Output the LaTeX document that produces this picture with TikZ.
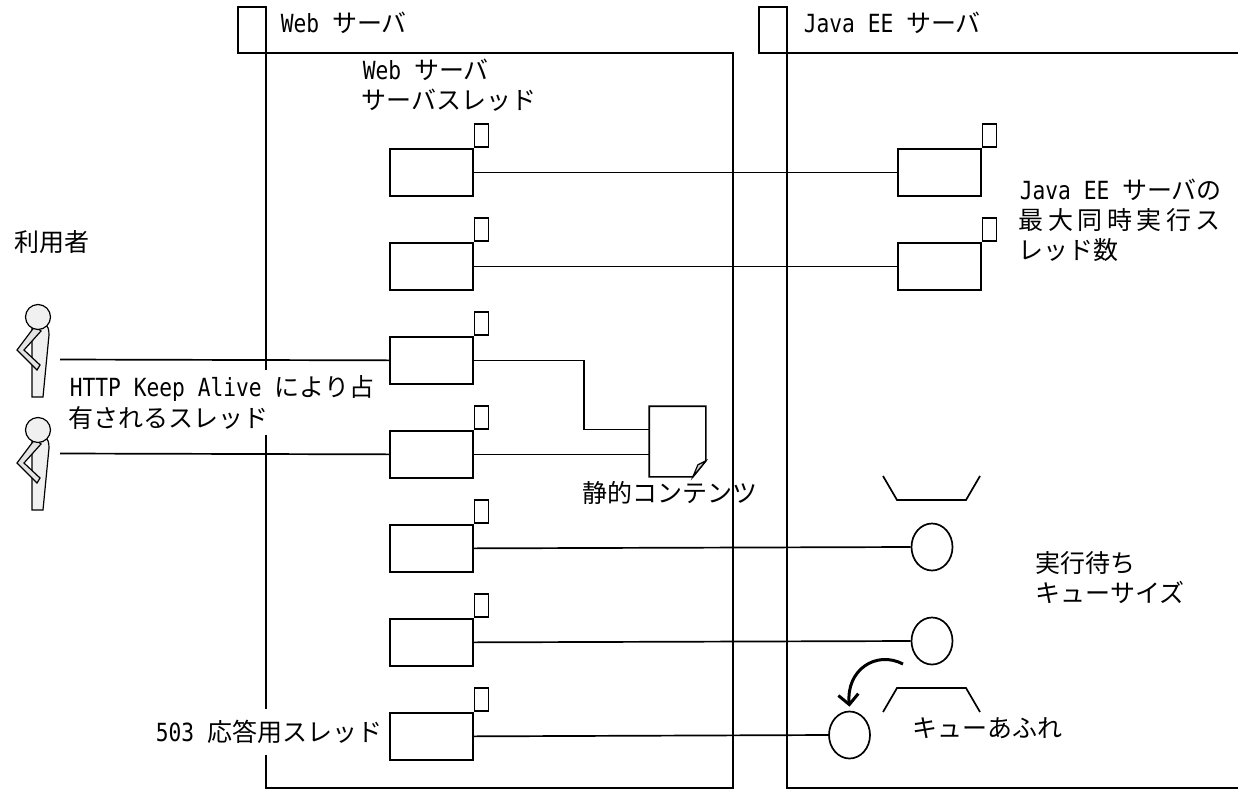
\documentclass[tikz,border=0pt]{standalone}
\usepackage{fontspec}
\setmainfont[FakeStretch=0.85]{DejaVu Sans Mono}
\newfontfamily\jp{Noto Sans CJK JP}
\newfontfamily\jpw[LetterSpace=18]{Noto Sans CJK JP}
\usetikzlibrary{shapes.geometric,arrows.meta}
\tikzset{
  tbox/.style={draw, rectangle, minimum width=83pt, minimum height=47pt, inner sep=0pt, anchor=north west},
  ttab/.style={draw, rectangle, minimum width=14pt, minimum height=23pt, inner sep=0pt, anchor=south west},
  lbl/.style={anchor=base west, inner sep=0pt},
  mask/.style={fill=white, inner xsep=2pt, inner ysep=6pt},
  qcirc/.style={draw, ellipse, minimum width=41pt, minimum height=47pt, inner sep=0pt},
  docbox/.style={rectangle, minimum width=55pt, minimum height=69pt, inner sep=0pt},
  person/.pic={
    \draw[fill=gray!12, line width=1.2pt] (-6,8) -- (6,8) .. controls (10,8) and (11,12) .. (11,18) -- (5,80) -- (-6,80) -- (-6,40) -- cycle;
    \draw[fill=gray!22, line width=1.2pt] (-3,9) -- (-21,33) -- (-1,53) -- (2,48) -- (-14,33) -- (3,14) -- cycle;
    \draw[fill=gray!12, line width=1.2pt] (0,0) circle (12.5pt);
  }
}
\begin{document}
\begin{tikzpicture}[x=1pt,y=-1pt,line width=1.7pt,every node/.style={font=\fontsize{25}{30}\selectfont}]
\useasboundingbox (0,0) rectangle (1238,790);
% frames
\draw (238,7) rectangle (266,53);
\draw (266,7) -- (266,788) -- (733,788) -- (733,53) -- (238,53);
\draw (759,7) rectangle (787,53);
\draw (787,7) -- (787,788) -- (1238,788);
\draw (759,53) -- (1238,53);
% labels
\node[lbl] (hweb) at (280,32.5) {Web {\jp サーバ}};
\node[lbl] (hjava) at (803,32.5) {Java EE {\jp サーバ}};
\node[lbl] (lw1) at (362,79.5) {Web {\jp サーバ}};
\node[lbl] (lw2) at (361,109.5) {\jp サーバスレッド};
\node[lbl] (luser) at (14,251.5) {\jp 利用者};
\node[lbl,mask] (lh1) at (67,396.5) {HTTP Keep Alive {\jp により占}};
\node[lbl,mask] (lh2) at (66,427.5) {\jp 有されるスレッド};
\node[lbl] (ldoc) at (582,502.5) {\jp 静的コンテンツ};
\node[lbl,mask,inner ysep=11pt] (l503) at (153,741.5) {503 {\jp 応答用スレッド}};
\node[lbl] (lj1) at (1019,199.5) {Java EE {\jp サーバの}};
\node[lbl] (lj2) at (1018,229.5) {\jpw 最大同時実行ス};
\node[lbl] (lj3) at (1018,259.5) {\jp レッド数};
\node[lbl] (lq1) at (1035,572.5) {\jp 実行待ち};
\node[lbl] (lq2) at (1035,602.5) {\jp キューサイズ};
\node[lbl] (lq3) at (912,737.5) {\jp キューあふれ};
% web server threads
\foreach \k/\y in {1/148,2/242,3/336,4/430,5/524,6/618,7/712}{
  \node[tbox] (w\k) at (389,\y) {};
  \node[ttab] (w\k t) at (w\k.north east) {};
}
% java threads
\foreach \k/\y in {1/148,2/242}{
  \node[tbox] (j\k) at (897,\y) {};
  \node[ttab] (j\k t) at (j\k.north east) {};
}
% queue
\node[qcirc] (q1) at (932,547) {};
\node[qcirc] (q2) at (932,641) {};
\node[qcirc] (q3) at (849.5,735) {};
\draw (883,476) -- (897,500) -- (966,500) -- (980,476);
\draw (883,712) -- (897,688) -- (966,688) -- (980,712);
% document
\node[docbox] (doc) at (677.5,441.5) {};
\draw[fill=white] (doc.north west) -- (doc.north east) -- ([yshift=16pt]doc.south east) -- ([xshift=-13pt]doc.south east) -- (doc.south west) -- cycle;
\draw[fill=gray!35, line width=1.2pt] ([yshift=16pt]doc.south east) -- ([xshift=-13pt]doc.south east) -- ([xshift=-8pt,yshift=12pt]doc.south east) -- cycle;
% persons
\pic at (38,317) {person};
\pic at (38,430) {person};
\coordinate (p1) at (60,359.5);
\coordinate (p2) at (60,453.5);
% connectors
\draw (p1) -- (w3.west);
\draw (p2) -- (w4.west);
\draw (w1.east) -- (j1.west);
\draw (w2.east) -- (j2.west);
\draw (w3.east) -- ++(110,0) |- ([yshift=12pt]doc.west);
\draw (w4.east) -- (w4.east -| doc.west);
\draw (w5.east) -- (q1.west);
\draw (w6.east) -- (q2.west);
\draw (w7.east) -- (q3.west);
% overflow arrow
\coordinate (arrS) at (903,664);
\draw[line width=3pt, -{Straight Barb[length=10pt,width=20pt]}] (arrS) .. controls (876,650) and (846,670) .. ([yshift=4pt]q3.north);
\end{tikzpicture}
\end{document}
